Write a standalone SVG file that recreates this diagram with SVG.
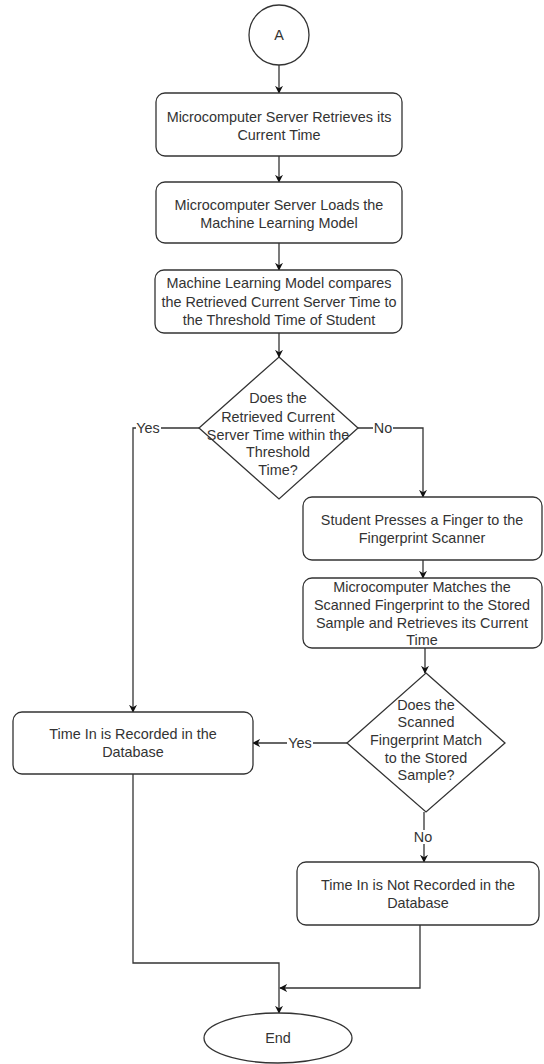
<svg xmlns="http://www.w3.org/2000/svg" width="544" height="1064" viewBox="0 0 544 1064">
<style>
.shape{fill:#ffffff;stroke:#333333;stroke-width:1.3}
.t{font-family:"Liberation Sans",Arial,sans-serif;font-size:14.4px;fill:#333333;text-anchor:middle}
.c{fill:none;stroke:#333333;stroke-width:1.3}
.lbl{fill:#ffffff}
</style>
<defs>
<marker id="arr" viewBox="0 0 10 10" refX="9" refY="5" markerWidth="8" markerHeight="8" markerUnits="userSpaceOnUse" orient="auto">
<path d="M0,0 L10,5 L0,10 L3,5 Z" fill="#111111"/>
</marker>
</defs>
<rect width="544" height="1064" fill="#ffffff"/>
<g id="connectors">
<path class="c" d="M279,65 V93" marker-end="url(#arr)"/>
<path class="c" d="M279,156 V182" marker-end="url(#arr)"/>
<path class="c" d="M279,243 V270" marker-end="url(#arr)"/>
<path class="c" d="M279,333 V357" marker-end="url(#arr)"/>
<path class="c" d="M199,428 H133 V712" marker-end="url(#arr)"/>
<path class="c" d="M358,428 H423 V497" marker-end="url(#arr)"/>
<path class="c" d="M423,560 V578" marker-end="url(#arr)"/>
<path class="c" d="M425,648 V673" marker-end="url(#arr)"/>
<path class="c" d="M347,743 H253" marker-end="url(#arr)"/>
<path class="c" d="M424,812 V862" marker-end="url(#arr)"/>
<path class="c" d="M133,774 V963 H279 V1013" marker-end="url(#arr)"/>
<path class="c" d="M420,925 V988 H280" marker-end="url(#arr)"/>
<rect class="lbl" x="136" y="421" width="25" height="14"/>
<text class="t" x="148" y="433">Yes</text>
<rect class="lbl" x="373" y="421" width="20" height="14"/>
<text class="t" x="383" y="433">No</text>
<rect class="lbl" x="287" y="736" width="26" height="14"/>
<text class="t" x="300" y="748">Yes</text>
<rect class="lbl" x="413" y="830" width="20" height="14"/>
<text class="t" x="423" y="842">No</text>
</g>
<g id="start">
<circle class="shape" cx="279" cy="35" r="30"/>
<text class="t" x="279" y="40">A</text>
</g>
<g id="box1">
<rect class="shape" x="156" y="93" width="246" height="63" rx="9"/>
<text class="t" x="279" y="122">Microcomputer Server Retrieves its</text>
<text class="t" x="279" y="140">Current Time</text>
</g>
<g id="box2">
<rect class="shape" x="156" y="182" width="246" height="61" rx="9"/>
<text class="t" x="279" y="210">Microcomputer Server Loads the</text>
<text class="t" x="279" y="228">Machine Learning Model</text>
</g>
<g id="box3">
<rect class="shape" x="155" y="270" width="247" height="63" rx="9"/>
<text class="t" x="279" y="288">Machine Learning Model compares</text>
<text class="t" x="279" y="307">the Retrieved Current Server Time to</text>
<text class="t" x="279" y="325">the Threshold Time of Student</text>
</g>
<g id="decision1">
<polygon class="shape" points="279,357 358,428 279,499 199,428"/>
<text class="t" x="278" y="403">Does the</text>
<text class="t" x="278" y="422">Retrieved Current</text>
<text class="t" x="278" y="440">Server Time within the</text>
<text class="t" x="278" y="457">Threshold</text>
<text class="t" x="278" y="475">Time?</text>
</g>
<g id="box4">
<rect class="shape" x="303" y="497" width="239" height="63" rx="9"/>
<text class="t" x="422" y="525">Student Presses a Finger to the</text>
<text class="t" x="422" y="543">Fingerprint Scanner</text>
</g>
<g id="box5">
<rect class="shape" x="303" y="578" width="239" height="70" rx="9"/>
<text class="t" x="422" y="592">Microcomputer Matches the</text>
<text class="t" x="422" y="610">Scanned Fingerprint to the Stored</text>
<text class="t" x="422" y="628">Sample and Retrieves its Current</text>
<text class="t" x="422" y="645">Time</text>
</g>
<g id="decision2">
<polygon class="shape" points="426,673 505,743 426,812 347,743"/>
<text class="t" x="426" y="710">Does the</text>
<text class="t" x="426" y="727">Scanned</text>
<text class="t" x="426" y="745">Fingerprint Match</text>
<text class="t" x="426" y="763">to the Stored</text>
<text class="t" x="426" y="780">Sample?</text>
</g>
<g id="box6">
<rect class="shape" x="13" y="712" width="240" height="62" rx="9"/>
<text class="t" x="133" y="739">Time In is Recorded in the</text>
<text class="t" x="133" y="757">Database</text>
</g>
<g id="box7">
<rect class="shape" x="297" y="862" width="242" height="63" rx="9"/>
<text class="t" x="418" y="890">Time In is Not Recorded in the</text>
<text class="t" x="418" y="908">Database</text>
</g>
<g id="end">
<ellipse class="shape" cx="278" cy="1038" rx="74" ry="25"/>
<text class="t" x="278" y="1043">End</text>
</g>
</svg>
